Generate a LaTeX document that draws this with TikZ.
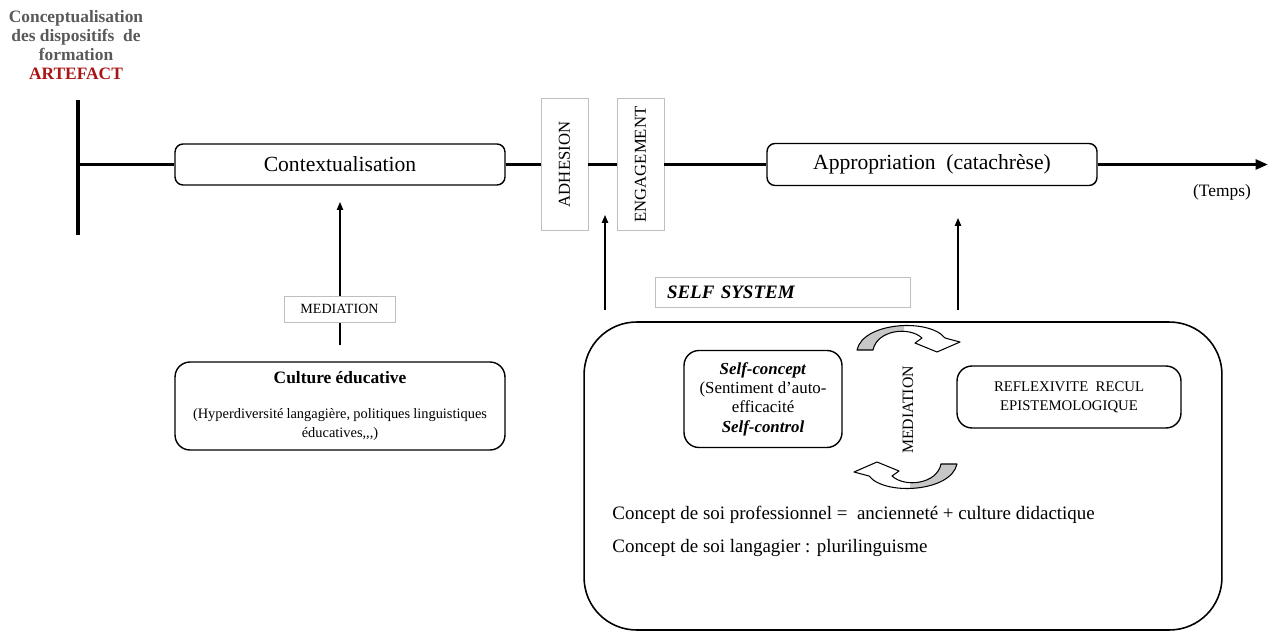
\documentclass[tikz,border=0pt]{standalone}
\usepackage{fontspec}
\setmainfont{Liberation Serif}
\usetikzlibrary{arrows.meta}
\definecolor{titlegray}{RGB}{89,89,89}
\definecolor{artred}{RGB}{170,20,20}

\begin{document}
\begin{tikzpicture}[x=0.02cm,y=-0.02cm,
  box/.style={draw,line width=0.8pt,fill=white,rounded corners=0.16cm},
  tag/.style={draw=black!25,line width=0.5pt,fill=white,inner sep=0pt},
  phase/.style={tag,rotate=90,minimum width=2.64cm,minimum height=0.94cm,font=\fontsize{9.5}{11}\selectfont},
  stage/.style={box,minimum width=6.6cm,minimum height=0.82cm,font=\fontsize{12.3}{14}\selectfont},
  rise/.style={line width=0.7pt,-{Triangle[length=4.5pt,width=3.6pt]}},
  pics/turnarrow/.style={code={
    \begin{scope}
      \clip (-60,-95) rectangle (-3,-50);
      \fill[black!22] (-50,-57) .. controls (-44,-85) and (22,-89) .. (38,-69) -- (53,-65) -- (30,-55) -- (8,-64) -- (15,-69) .. controls (2,-81) and (-30,-77) .. (-34,-57) -- cycle;
    \end{scope}
    \draw[line width=0.6pt,line join=round] (-50,-57) .. controls (-44,-85) and (22,-89) .. (38,-69) -- (53,-65) -- (30,-55) -- (8,-64) -- (15,-69) .. controls (2,-81) and (-30,-77) .. (-34,-57) -- cycle;
  }}]
  \useasboundingbox (0,0) rectangle (1270,631);
  \node[font=\bfseries\fontsize{9.9}{10.9}\selectfont,text=titlegray,align=center] (title) at (76,45) {Conceptualisation\\des dispositifs~~de\\formation\\\textcolor{artred}{ARTEFACT}};
  \coordinate (bartop) at (78,100);
  \coordinate (barbot) at (78,235);
  \coordinate (origin) at (78,164.5);
  \coordinate (tend) at (1268,164.5);
  \draw[line width=2pt] (bartop) -- (barbot);
  \node[stage] (ctx) at (340,164.5) {Contextualisation};
  \node[phase] (adh) at (564.5,164.5) {ADHESION};
  \node[phase] (eng) at (640.5,164.5) {ENGAGEMENT};
  \node[stage,minimum height=0.84cm] (app) at (932,164.5) {Appropriation~~(catachrèse)};
  \draw[line width=1.9pt,-{Triangle[length=7pt,width=5.5pt]}] (origin) -- (ctx) -- (adh) -- (eng) -- (app) -- (tend);
  \node[font=\fontsize{9.9}{11}\selectfont] (temps) at (1222,192) {(Temps)};

  \coordinate (m1foot) at (340,345);
  \coordinate (m1tip) at (340,202);
  \draw[rise] (m1foot) -- (m1tip);
  \node[tag,minimum width=2.22cm,minimum height=0.52cm,font=\fontsize{8}{9}\selectfont] (med1) at (339.5,309) {MEDIATION};
  \node[box,rounded corners=0.3cm,minimum width=6.6cm,minimum height=1.76cm,align=center,font=\fontsize{8.2}{10.8}\selectfont] (cult) at (340,406) {{\bfseries\fontsize{9.9}{11}\selectfont Culture éducative}\\[9pt]\makebox[5.88cm][s]{(Hyperdiversité langagière, politiques linguistiques}\\éducatives,\kern0pt,\kern0pt,)};

  \coordinate (a2foot) at (605,310);
  \coordinate (a2tip) at (605,215);
  \coordinate (a3foot) at (958,310);
  \coordinate (a3tip) at (958,218);
  \draw[rise] (a2foot) -- (a2tip);
  \draw[rise] (a3foot) -- (a3tip);
  \node[tag,minimum width=5.1cm,minimum height=0.6cm,inner xsep=0.24cm,text width=4.62cm,align=left,font=\bfseries\itshape\fontsize{10.8}{12}\selectfont] (selftag) at (782.5,292) {SELF SYSTEM};

  \node[draw,line width=0.9pt,rounded corners=1.05cm,minimum width=12.76cm,minimum height=6.16cm] (selfsys) at (903,476) {};
  \node[box,rounded corners=0.3cm,minimum width=3.16cm,minimum height=1.94cm,align=center,font=\fontsize{9.6}{11}\selectfont] (sc) at (763,399) {\textbf{\textit{Self-concept}}\\(Sentiment d’auto-\\efficacité\\\textbf{\textit{Self-control}}};
  \node[rotate=90,font=\fontsize{9}{10}\selectfont] (med2) at (908,410) {MEDIATION};
  \node[box,rounded corners=0.3cm,minimum width=4.48cm,minimum height=1.24cm,align=center,font=\fontsize{8.4}{10.8}\selectfont] (refl) at (1069,397) {REFLEXIVITE~~RECUL\\EPISTEMOLOGIQUE};
  \pic (turnup) at (907,407) {turnarrow};
  \pic[rotate=180] (turndown) at (907,407) {turnarrow};
  \node[anchor=west,inner sep=0pt,font=\fontsize{10.8}{12}\selectfont] (prof) at (612,515) {Concept de soi professionnel =~~ancienneté + culture didactique};
  \node[anchor=west,inner sep=0pt,font=\fontsize{10.8}{12}\selectfont] (lang) at (612,548) {Concept de soi langagier~: plurilinguisme};
\end{tikzpicture}
\end{document}
